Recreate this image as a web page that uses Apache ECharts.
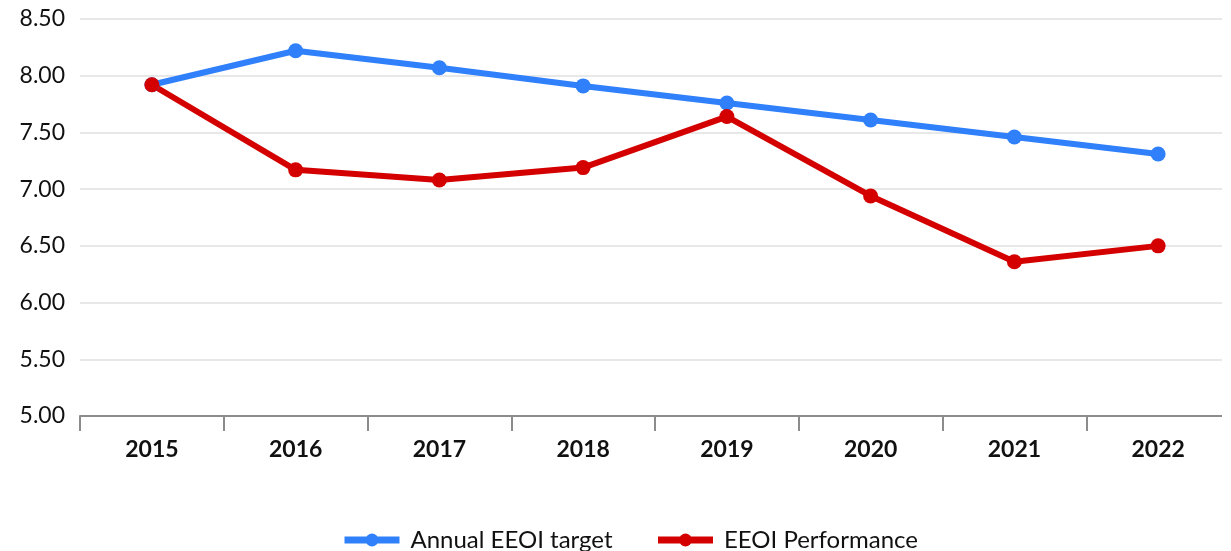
<!DOCTYPE html>
<html>
<head>
<meta charset="utf-8">
<script src="https://cdn.jsdelivr.net/npm/echarts@6/dist/echarts.min.js"></script>
<style>
  html, body { margin: 0; padding: 0; background: #fff; }
  #chart { width: 1231px; height: 551px; }
</style>
</head>
<body>
<div id="chart"></div>
<script>
const years = ['2015', '2016', '2017', '2018', '2019', '2020', '2021', '2022'];
const targetValues = [7.92, 8.22, 8.07, 7.91, 7.76, 7.61, 7.46, 7.31];
const performanceValues = [7.92, 7.17, 7.08, 7.19, 7.64, 6.94, 6.36, 6.50];

const chart = echarts.init(document.getElementById('chart'));
chart.setOption({
  animation: false,
  textStyle: { fontFamily: 'Lato' },
  grid: { left: 80, right: 1, top: 19, bottom: 135 },
  // the source picture is cut off just short of the plot's right edge
  graphic: [{
    type: 'rect',
    right: 0,
    top: 0,
    z: 100,
    shape: { width: 9, height: 440 },
    style: { fill: '#fff' }
  }],
  legend: {
    bottom: -1,
    left: 341,
    padding: 0,
    itemWidth: 55,
    itemHeight: 16,
    itemGap: 42,
    lineStyle: { width: 7 },
    textStyle: { fontSize: 24, color: '#111', fontFamily: 'Lato', padding: [0, 0, 0, 6] },
    data: ['Annual EEOI target', 'EEOI Performance']
  },
  xAxis: {
    type: 'category',
    data: years,
    axisLine: { lineStyle: { color: '#8c8c8c', width: 2 } },
    axisTick: { show: true, length: 15, lineStyle: { color: '#8c8c8c', width: 2 } },
    axisLabel: { fontSize: 23, fontWeight: 'bold', color: '#111', margin: 22 }
  },
  yAxis: {
    type: 'value',
    min: 5,
    max: 8.5,
    interval: 0.5,
    axisLine: { show: false },
    axisTick: { show: false },
    splitLine: { lineStyle: { color: '#e0e0e0', width: 1.5 } },
    axisLabel: {
      fontSize: 23, color: '#111', margin: 15,
      formatter: v => v.toFixed(2)
    }
  },
  series: [
    {
      name: 'Annual EEOI target',
      type: 'line',
      data: targetValues,
      symbol: 'circle',
      symbolSize: 15,
      lineStyle: { width: 6, color: '#2f80fa' },
      itemStyle: { color: '#2f80fa' }
    },
    {
      name: 'EEOI Performance',
      type: 'line',
      data: performanceValues,
      symbol: 'circle',
      symbolSize: 15,
      lineStyle: { width: 6, color: '#d40000' },
      itemStyle: { color: '#d40000' }
    }
  ]
});
</script>
</body>
</html>
